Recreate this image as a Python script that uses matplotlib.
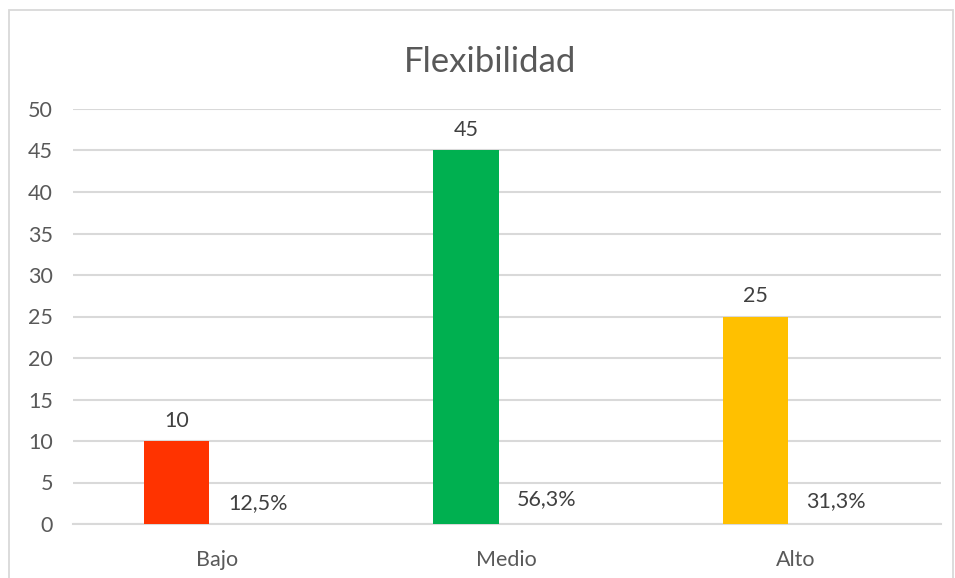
import matplotlib.pyplot as plt
import numpy as np
from matplotlib.patches import Rectangle

categorias = ['Bajo', 'Medio', 'Alto']
frecuencia = [10, 45, 25]
porcentaje = [0.125, 0.563, 0.313]
etiquetas_pct = ['12,5%', '56,3%', '31,3%']
colores = ['#FF3300', '#00B050', '#FFC000']

plt.rcParams['font.family'] = ['Lato', 'DejaVu Sans']

fig = plt.figure(figsize=(9.55, 5.78), dpi=100)
# chart border
fig.patches.append(Rectangle((9 / 955, -0.05), (953 - 9) / 955, (578 - 10) / 578 + 0.05,
                             transform=fig.transFigure, fill=False,
                             edgecolor='#D9D9D9', linewidth=1.3))

ax = fig.add_axes([72.5 / 955, 1 - 524 / 578, (940.5 - 72.5) / 955, (524 - 109) / 578])

x = np.arange(len(categorias))
ancho = 0.225
desp = 0.14
ax.bar(x - desp, frecuencia, ancho, color=colores, zorder=3)
# serie de porcentajes: sin relleno visible, solo etiquetas
ax.bar(x + desp, porcentaje, ancho, color='none', zorder=3)

for xi, v in zip(x, frecuencia):
    ax.annotate(str(v), (xi - desp, v), xytext=(0, 14.4), textcoords='offset points',
                ha='center', va='center', fontsize=15.5, color='#404040')
for xi, v, t in zip(x, porcentaje, etiquetas_pct):
    ax.annotate(t, (xi + desp, v), xytext=(0, 14.4), textcoords='offset points',
                ha='center', va='center', fontsize=15.5, color='#404040')

ax.set_xlim(-0.5, 2.5)
ax.set_ylim(0, 50)
ax.set_yticks(range(0, 51, 5))
ax.set_xticks(x)
ax.set_xticklabels(categorias)
ax.yaxis.grid(True, color='#D9D9D9', linewidth=1.5, zorder=0)
ax.set_axisbelow(True)
for s in ['top', 'right', 'left']:
    ax.spines[s].set_visible(False)
ax.spines['bottom'].set_color('#D9D9D9')
ax.spines['bottom'].set_linewidth(1.5)
ax.tick_params(axis='both', length=0, labelsize=15.5, labelcolor='#595959')
ax.tick_params(axis='y', pad=14)
ax.tick_params(axis='x', pad=19)

fig.text(490 / 955, 1 - 62 / 578, 'Flexibilidad', ha='center', va='center',
         fontsize=25, color='#595959')

fig.savefig('out.png', dpi=100)
